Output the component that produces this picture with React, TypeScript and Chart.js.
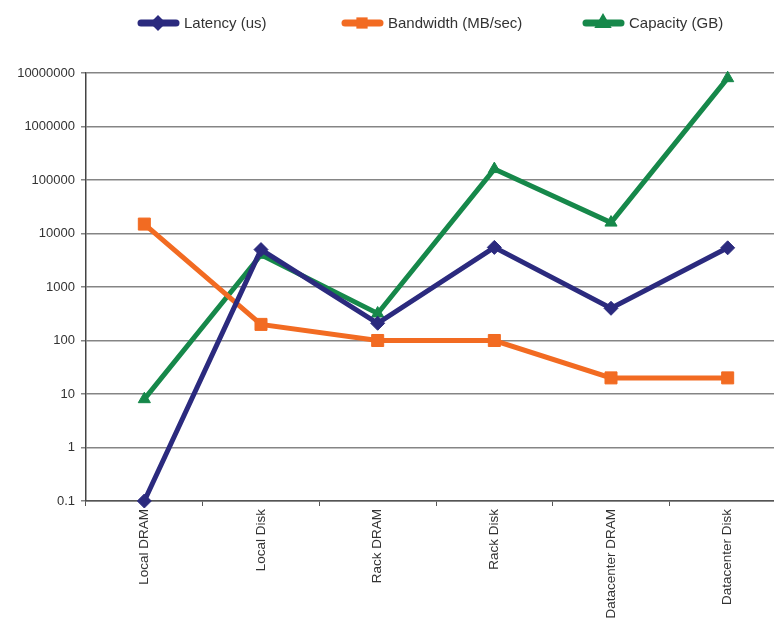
import React, { useEffect, useRef } from "react";
import { Chart, registerables } from "chart.js";
import { drawPoint } from "chart.js/helpers";

Chart.register(...registerables);

// Storage hierarchy: latency, bandwidth and capacity per level
const categories = [
  "Local DRAM",
  "Local Disk",
  "Rack DRAM",
  "Rack Disk",
  "Datacenter DRAM",
  "Datacenter Disk",
];
const latencyUs = [0.1, 5000, 210, 5500, 400, 5400];
const bandwidthMBs = [15000, 200, 100, 100, 20, 20];
const capacityGB = [8, 4000, 320, 160000, 16000, 8000000];

const seriesNames = ["Latency (us)", "Bandwidth (MB/sec)", "Capacity (GB)"];

const yTickValues = [0.1, 1, 10, 100, 1000, 10000, 100000, 1000000, 10000000];
const yTickLabels = ["0.1", "1", "10", "100", "1000", "10000", "100000", "1000000", "10000000"];

const NAVY = "#2b2a7e";
const ORANGE = "#f26b22";
const GREEN = "#16884a";
const TEXT = "#333333";
const FONT = '"Liberation Sans", Arial, sans-serif';

// Legend row above the plot: line swatch with marker, then the series name
const legendStarts = [138, 342, 583];
const legendY = 23;

const topLegend = {
  id: "topLegend",
  afterDraw(chart: any) {
    const ctx = chart.ctx as CanvasRenderingContext2D;
    ctx.save();
    chart.data.datasets.forEach((ds: any, i: number) => {
      const x = legendStarts[i];
      ctx.strokeStyle = ds.borderColor;
      ctx.fillStyle = ds.borderColor;
      ctx.lineWidth = 7;
      ctx.lineCap = "round";
      ctx.beginPath();
      ctx.moveTo(x + 3, legendY);
      ctx.lineTo(x + 38, legendY);
      ctx.stroke();
      drawPoint(
        ctx,
        { pointStyle: ds.pointStyle, rotation: 0, radius: 3, borderWidth: 1 },
        x + 20,
        legendY
      );
      ctx.fillStyle = TEXT;
      ctx.font = `15px ${FONT}`;
      ctx.textBaseline = "middle";
      ctx.textAlign = "left";
      ctx.fillText(ds.label, x + 46, legendY + 1);
    });
    ctx.restore();
  },
};

export default function App() {
  const canvasRef = useRef<HTMLCanvasElement | null>(null);

  useEffect(() => {
    if (!canvasRef.current) return;
    const chart = new Chart(canvasRef.current, {
      type: "line",
      data: {
        labels: categories,
        datasets: [
          {
            label: seriesNames[0],
            data: latencyUs,
            borderColor: NAVY,
            backgroundColor: NAVY,
            borderWidth: 5,
            pointStyle: "rectRot",
            pointRadius: 7,
            pointBorderWidth: 1,
            tension: 0,
            clip: false,
          },
          {
            label: seriesNames[1],
            data: bandwidthMBs,
            borderColor: ORANGE,
            backgroundColor: ORANGE,
            borderWidth: 5,
            pointStyle: "rect",
            pointRadius: 8.5,
            pointBorderWidth: 1,
            tension: 0,
            clip: false,
          },
          {
            label: seriesNames[2],
            data: capacityGB,
            borderColor: GREEN,
            backgroundColor: GREEN,
            borderWidth: 5,
            pointStyle: "triangle",
            pointRadius: 7,
            pointBorderWidth: 1,
            tension: 0,
            clip: false,
          },
        ],
      },
      options: {
        responsive: true,
        maintainAspectRatio: false,
        animation: false,
        layout: { padding: { top: 73, right: 14, left: 0, bottom: 0 } },
        plugins: {
          legend: { display: false },
          tooltip: { enabled: false },
        },
        scales: {
          x: {
            type: "category",
            offset: true,
            grid: {
              offset: true,
              drawOnChartArea: false,
              color: "#555",
              lineWidth: 1,
              tickLength: 5,
            },
            border: { display: true, color: "#555", width: 1.5 },
            ticks: {
              minRotation: 90,
              maxRotation: 90,
              autoSkip: false,
              padding: 3,
              color: TEXT,
              font: { family: FONT, size: 13.5 },
            },
            afterFit: (scale: any) => {
              scale.height = 118;
            },
          },
          y: {
            type: "logarithmic",
            min: 0.1,
            max: 10000000,
            grid: {
              color: "#858585",
              lineWidth: 1.5,
              tickLength: 5,
            },
            border: { display: true, color: "#444", width: 1.5 },
            ticks: {
              color: TEXT,
              padding: 6,
              font: { family: FONT, size: 13 },
              callback: (value: any) => {
                const idx = yTickValues.findIndex(
                  (v) => Math.abs(v - Number(value)) < v * 1e-6
                );
                return idx >= 0 ? yTickLabels[idx] : "";
              },
            },
            afterBuildTicks: (scale: any) => {
              scale.ticks = yTickValues.map((v) => ({ value: v }));
            },
            afterFit: (scale: any) => {
              scale.width = 86;
            },
          },
        },
      },
      plugins: [topLegend],
    });
    return () => chart.destroy();
  }, []);

  return (
    <div
      style={{
        position: "fixed",
        left: 0,
        top: 0,
        width: 774,
        height: 619,
        overflow: "hidden",
        background: "#ffffff",
      }}
    >
      <div style={{ position: "relative", width: 800, height: 619 }}>
        <canvas ref={canvasRef} />
      </div>
    </div>
  );
}
